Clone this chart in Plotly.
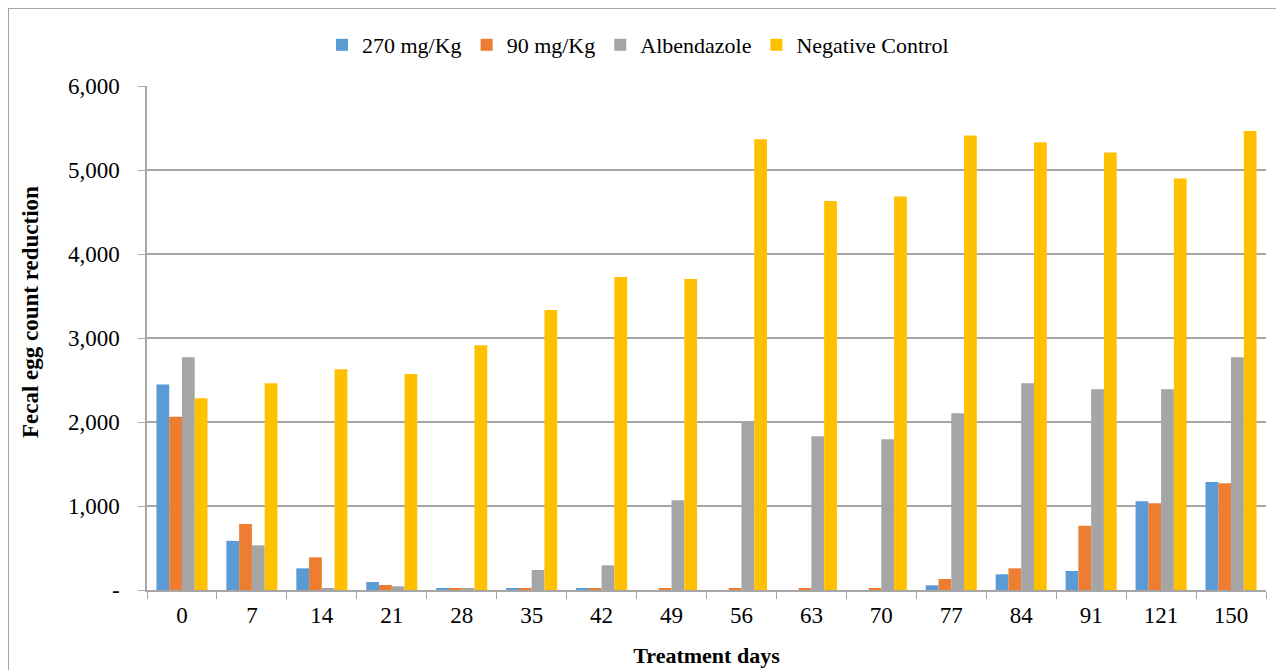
import plotly.graph_objects as go

days = ["0", "7", "14", "21", "28", "35", "42", "49", "56", "63", "70", "77", "84", "91", "121", "150"]
dose_270 = [2445, 585, 258, 95, 24, 20, 20, 0, 0, 0, 0, 56, 187, 226, 1056, 1286]
dose_90 = [2063, 786, 389, 60, 24, 20, 20, 20, 20, 20, 20, 131, 258, 766, 1032, 1270]
albendazole = [2770, 532, 24, 44, 24, 238, 294, 1067, 2004, 1829, 1794, 2103, 2460, 2389, 2389, 2770]
negative_control = [2282, 2460, 2627, 2571, 2913, 3333, 3726, 3702, 5365, 4630, 4685, 5410, 5330, 5207, 4898, 5464]

series_names = ["270 mg/Kg", "90 mg/Kg", "Albendazole", "Negative Control"]
series_colors = ["#5B9BD5", "#ED7D31", "#A5A5A5", "#FFC000"]
series_values = [dose_270, dose_90, albendazole, negative_control]

y_tickvals = [0, 1000, 2000, 3000, 4000, 5000, 6000]
y_ticktext = ["-", "1,000", "2,000", "3,000", "4,000", "5,000", "6,000"]

FONT = "Liberation Serif, Times New Roman, serif"

fig = go.Figure()
for name, color, vals in zip(series_names, series_colors, series_values):
    fig.add_trace(go.Bar(x=days, y=vals, name=name, marker=dict(color=color, line=dict(width=0))))

# the page body adds an 8px offset
W, H = 1276, 662
ml, mt = 139, 78
pw, ph = 1119, 504
mr, mb = W - ml - pw, H - mt - ph

fig.update_layout(
    width=W, height=H,
    margin=dict(l=ml, r=mr, t=mt, b=mb, autoexpand=False),
    paper_bgcolor="white", plot_bgcolor="white",
    barmode="group", bargap=0.27, bargroupgap=0,
    font=dict(family=FONT, color="#000000", size=20),
    legend=dict(orientation="h", xref="container", yref="container",
                x=(638 - 8) / W, xanchor="center", y=1 - 37 / H, yanchor="middle",
                font=dict(family=FONT, size=22), traceorder="normal",
                itemwidth=30, bgcolor="rgba(0,0,0,0)"),
    xaxis=dict(type="category", showline=True, linecolor="#A6A6A6", linewidth=1.5,
               ticks="outside", tickson="boundaries", ticklen=7, tickcolor="#A6A6A6",
               tickfont=dict(family=FONT, size=23), showgrid=False, automargin=False,
               ticklabelstandoff=4,
               title=dict(text="<b>Treatment days</b>", font=dict(family=FONT, size=22), standoff=20)),
    yaxis=dict(range=[0, 6000], tickvals=y_tickvals, ticktext=y_ticktext,
               showline=True, linecolor="#A6A6A6", linewidth=1.5,
               ticks="outside", ticklen=7, tickcolor="#A6A6A6",
               showgrid=True, gridcolor="#A6A6A6", gridwidth=1.5, zeroline=False,
               tickfont=dict(family=FONT, size=23), automargin=False,
               ticklabelstandoff=14),
)

# y axis title
fig.add_annotation(text="<b>Fecal egg count reduction</b>", textangle=-90,
                   xref="paper", yref="paper",
                   x=(30 - 8 - ml) / pw, y=(H - (312 - 8) - mb) / ph,
                   xanchor="center", yanchor="middle", showarrow=False,
                   font=dict(family=FONT, size=23, color="#000000"))

# outer chart border
fig.add_shape(type="rect", xref="paper", yref="paper",
              x0=(0 - ml) / pw, x1=(1272 - ml) / pw,
              y0=(H - mt - 700) / ph, y1=(H - mt - 2) / ph,
              line=dict(color="#A6A6A6", width=2), fillcolor="rgba(0,0,0,0)", layer="below")

fig.write_html("out.html")
